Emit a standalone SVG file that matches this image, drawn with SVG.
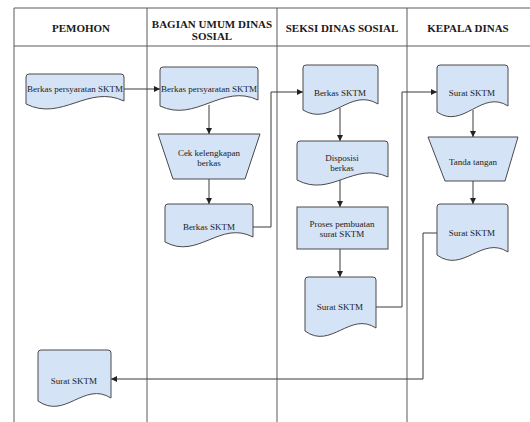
<svg xmlns="http://www.w3.org/2000/svg" width="530" height="422" viewBox="0 0 530 422">
<style>
.frame{stroke:#5a5a5a;stroke-width:1;fill:none}
.hdr{font-family:"Liberation Serif","Times New Roman",Times,"DejaVu Serif",serif;font-weight:bold;font-size:11px;fill:#1a1a1a;text-anchor:middle}
.shape{fill:#d5e3f6;stroke:#4a4a4a;stroke-width:1}
.lbl{font-family:"Liberation Serif","Times New Roman",Times,"DejaVu Serif",serif;font-size:9px;fill:#222;text-anchor:middle}
.conn{stroke:#3a3a3a;stroke-width:1;fill:none}
</style>
<defs>
<marker id="arr" viewBox="0 0 8 8" refX="8" refY="4" markerWidth="6" markerHeight="6" orient="auto" markerUnits="userSpaceOnUse">
<path d="M0,0 L8,4 L0,8 z" fill="#222"/>
</marker>
</defs>
<rect width="530" height="422" fill="#ffffff"/>
<g id="lanes">
<path class="frame" d="M14,8 H530 M14,46 H530 M14,8 V422 M147,8 V422 M277,8 V422 M407,8 V422"/>
<text class="hdr" x="81" y="32" font-family="Liberation Serif, serif">PEMOHON</text>
<text class="hdr" x="212" y="28">BAGIAN UMUM DINAS</text>
<text class="hdr" x="212" y="40">SOSIAL</text>
<text class="hdr" x="342" y="32">SEKSI DINAS SOSIAL</text>
<text class="hdr" x="468" y="32">KEPALA DINAS</text>
</g>
<g id="connectors">
<path class="conn" d="M124,89 H160" marker-end="url(#arr)"/>
<path class="conn" d="M209,105 V134" marker-end="url(#arr)"/>
<path class="conn" d="M209,179 V204" marker-end="url(#arr)"/>
<path class="conn" d="M253,227 H271 V92 H303" marker-end="url(#arr)"/>
<path class="conn" d="M340,108 V141" marker-end="url(#arr)"/>
<path class="conn" d="M340,179 V207" marker-end="url(#arr)"/>
<path class="conn" d="M340,249 V277" marker-end="url(#arr)"/>
<path class="conn" d="M376,307 H402 V92 H437" marker-end="url(#arr)"/>
<path class="conn" d="M473,110 V137" marker-end="url(#arr)"/>
<path class="conn" d="M473,181 V204" marker-end="url(#arr)"/>
<path class="conn" d="M437,233 H423 V379 H111" marker-end="url(#arr)"/>
</g>
<g id="n1">
<path class="shape" d="M26,77 Q26,74 29,74 H121 Q124,74 124,77 V101 C88,84 62,122 26,104 Z"/>
<text class="lbl" x="75" y="92">Berkas persyaratan SKTM</text>
</g>
<g id="n2">
<path class="shape" d="M160,70 Q160,67 163,67 H255 Q258,67 258,70 V100 C222,83 196,123 160,106 Z"/>
<text class="lbl" x="209" y="92">Berkas persyaratan SKTM</text>
</g>
<g id="n3">
<path class="shape" d="M158,134 H260 L245,179 H173 Z"/>
<text class="lbl" x="209" y="156">Cek kelengkapan</text>
<text class="lbl" x="209" y="166">berkas</text>
</g>
<g id="n4">
<path class="shape" d="M165,207 Q165,204 168,204 H250 Q253,204 253,207 V237 C220,220 198,260 165,242 Z"/>
<text class="lbl" x="209" y="230">Berkas SKTM</text>
</g>
<g id="n5">
<path class="shape" d="M303,68 Q303,65 306,65 H375 Q378,65 378,68 V104 C350,87 331,127 303,110 Z"/>
<text class="lbl" x="340" y="96">Berkas SKTM</text>
</g>
<g id="n6">
<path class="shape" d="M297,144 Q297,141 300,141 H385 Q388,141 388,144 V177 C354,161 331,198 297,180 Z"/>
<text class="lbl" x="342" y="161">Disposisi</text>
<text class="lbl" x="342" y="171">berkas</text>
</g>
<g id="n7">
<rect class="shape" x="297" y="207" width="91" height="42"/>
<text class="lbl" x="342" y="227">Proses pembuatan</text>
<text class="lbl" x="342" y="237">surat SKTM</text>
</g>
<g id="n8">
<path class="shape" d="M305,280 Q305,277 308,277 H373 Q376,277 376,280 V328 C350,311 331,350 305,331 Z"/>
<text class="lbl" x="340" y="310">Surat SKTM</text>
</g>
<g id="n9">
<path class="shape" d="M437,68 Q437,65 440,65 H505 Q508,65 508,68 V106 C482,89 463,130 437,112 Z"/>
<text class="lbl" x="472" y="96">Surat SKTM</text>
</g>
<g id="n10">
<path class="shape" d="M428,137 H518 L505,181 H445 Z"/>
<text class="lbl" x="473" y="165">Tanda tangan</text>
</g>
<g id="n11">
<path class="shape" d="M437,207 Q437,204 440,204 H505 Q508,204 508,207 V252 C482,235 463,274 437,255 Z"/>
<text class="lbl" x="472" y="236">Surat SKTM</text>
</g>
<g id="n12">
<path class="shape" d="M38,353 Q38,350 41,350 H108 Q111,350 111,353 V398 C84,381 65,420 38,401 Z"/>
<text class="lbl" x="74" y="384">Surat SKTM</text>
</g>
</svg>
